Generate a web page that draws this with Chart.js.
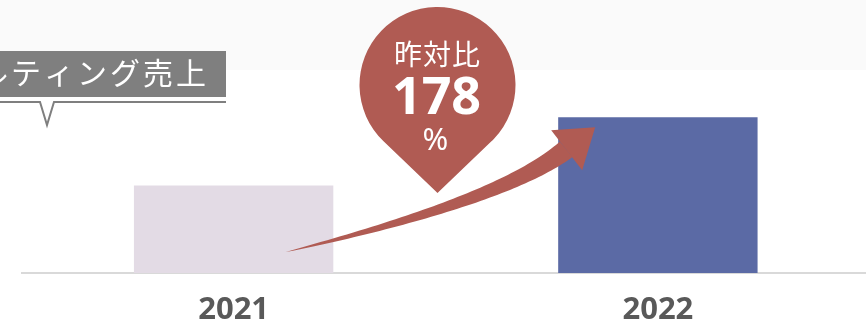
<!DOCTYPE html>
<html lang="ja">
<head>
<meta charset="utf-8">
<script src="https://cdn.jsdelivr.net/npm/chart.js@4/dist/chart.umd.min.js"></script>
<style>
  html, body { margin: 0; padding: 0; background: #fff; overflow: hidden; }
  #moldura { width: 870px; height: 324px; }
</style>
</head>
<body>
<div id="moldura"><canvas id="graficoVendas" width="870" height="324"></canvas></div>
<script>
// Dados do gráfico (índice: 2021 = 100)
const anos = ["2021", "2022"];
const vendas = [100, 178];
const coresBarras = ["#e3dbe5", "#5b6aa5"];
const tituloSerie = "コンサルティング売上";
const rotuloComparacao = "昨対比";

const COR_DESTAQUE = "#b05b53";
const COR_CINZA = "#7f7f7f";

/**
 * Faixa cinza clara no topo, atrás de tudo.
 */
const pluginFundo = {
  id: "fundo",
  beforeDraw(chart) {
    const ctx = chart.ctx;
    ctx.save();
    ctx.fillStyle = "#fafafa";
    ctx.fillRect(0, 0, chart.width, 70);
    ctx.restore();
  }
};

/**
 * Seta curva que afina na cauda (curva quadrática com largura variável).
 */
function desenharSeta(ctx, p0, c, p2, larguraFinal, ponta, aba1, aba2) {
  const pts = [];
  const N = 60;
  for (let i = 0; i <= N; i++) {
    const t = i / N;
    const x = (1 - t) * (1 - t) * p0.x + 2 * (1 - t) * t * c.x + t * t * p2.x;
    const y = (1 - t) * (1 - t) * p0.y + 2 * (1 - t) * t * c.y + t * t * p2.y;
    const dx = 2 * (1 - t) * (c.x - p0.x) + 2 * t * (p2.x - c.x);
    const dy = 2 * (1 - t) * (c.y - p0.y) + 2 * t * (p2.y - c.y);
    const len = Math.hypot(dx, dy);
    const w = larguraFinal * Math.pow(t, 0.8) / 2;
    pts.push({ x, y, nx: -dy / len, ny: dx / len, w });
  }
  ctx.beginPath();
  pts.forEach((p, i) => {
    const X = p.x + p.nx * p.w, Y = p.y + p.ny * p.w;
    if (i === 0) ctx.moveTo(X, Y); else ctx.lineTo(X, Y);
  });
  for (let i = pts.length - 1; i >= 0; i--) {
    const p = pts[i];
    ctx.lineTo(p.x - p.nx * p.w, p.y - p.ny * p.w);
  }
  ctx.closePath();
  ctx.fill();

  // cabeça da seta
  ctx.beginPath();
  ctx.moveTo(ponta.x, ponta.y);
  ctx.lineTo(aba1.x, aba1.y);
  ctx.lineTo(aba2.x, aba2.y);
  ctx.closePath();
  ctx.fill();
}

/**
 * Balão em forma de gota com a variação ano contra ano.
 */
function desenharBalao(ctx, cx, cy, r, bicoY, linhas) {
  const d = bicoY - cy;
  const alfa = Math.acos(r / d);
  const a1 = Math.PI / 2 + alfa;
  const a2 = Math.PI / 2 - alfa + Math.PI * 2;
  ctx.beginPath();
  ctx.moveTo(cx, bicoY);
  ctx.lineTo(cx + r * Math.cos(a1), cy + r * Math.sin(a1));
  ctx.arc(cx, cy, r, a1, a2, false);
  ctx.closePath();
  ctx.fillStyle = COR_DESTAQUE;
  ctx.fill();

  ctx.fillStyle = "#fff";
  ctx.textAlign = "center";
  ctx.textBaseline = "middle";
  linhas.forEach(l => {
    ctx.font = l.fonte;
    ctx.letterSpacing = l.espaco || "0px";
    ctx.fillText(l.texto, cx + l.dx, cy + l.dy);
  });
  ctx.letterSpacing = "0px";
}

const pluginAnotacoes = {
  id: "anotacoes",
  afterDraw(chart) {
    const ctx = chart.ctx;
    const barras = chart.getDatasetMeta(0).data;
    const b0 = barras[0], b1 = barras[1];
    const base = b0.base;

    ctx.save();

    // caixa do título da série, com o bico apontando para baixo
    ctx.fillStyle = COR_CINZA;
    ctx.fillRect(0, 51, 226, 46);
    ctx.fillStyle = "#fff";
    ctx.font = "30px 'Noto Sans CJK JP'";
    ctx.letterSpacing = "3px";
    ctx.textAlign = "right";
    ctx.textBaseline = "middle";
    ctx.fillText(tituloSerie, 209, 73);
    ctx.letterSpacing = "0px";
    ctx.strokeStyle = COR_CINZA;
    ctx.lineWidth = 2;
    ctx.beginPath();
    ctx.moveTo(-2, 102);
    ctx.lineTo(40, 102);
    ctx.lineTo(47, 125);
    ctx.lineTo(54, 102);
    ctx.lineTo(226, 102);
    ctx.stroke();

    // seta de 2021 para 2022
    ctx.fillStyle = COR_DESTAQUE;
    const esq1 = b1.x - b1.width / 2;
    desenharSeta(
      ctx,
      { x: b0.x + 52, y: base - 21 },
      { x: esq1 - 55, y: base - 73 },
      { x: esq1 + 8, y: b1.y + 32 },
      20,
      { x: esq1 + 37, y: b1.y + 10 },
      { x: esq1 - 7, y: b1.y + 13 },
      { x: esq1 + 24, y: b1.y + 53 }
    );

    // balão com a razão entre os dois anos
    const razao = Math.round(vendas[1] / vendas[0] * 100);
    desenharBalao(ctx, 437.5, 85, 78, 193, [
      { texto: rotuloComparacao, fonte: "28px 'Noto Sans CJK JP'", dx: 0, dy: -31, espaco: "1px" },
      { texto: String(razao), fonte: "bold 52px 'Open Sans'", dx: -1, dy: 14 },
      { texto: "%", fonte: "31px 'Noto Sans'", dx: -2, dy: 56 }
    ]);

    ctx.restore();
  }
};

document.addEventListener("DOMContentLoaded", function () {
  const ctx = document.getElementById("graficoVendas");
  new Chart(ctx, {
    type: "bar",
    data: {
      labels: anos,
      datasets: [{
        data: vendas,
        backgroundColor: coresBarras,
        borderWidth: 0,
        barPercentage: 0.47,
        categoryPercentage: 1
      }]
    },
    options: {
      responsive: false,
      animation: false,
      devicePixelRatio: 1,
      // o eixo x ocupa mais altura do que o necessário; o padding negativo compensa
      layout: { padding: { left: 21.5, top: 0, right: 0, bottom: -23 } },
      plugins: {
        legend: { display: false },
        tooltip: { enabled: false }
      },
      scales: {
        y: { display: false, min: 0, max: 312 },
        x: {
          grid: { display: false, drawTicks: false },
          border: { display: true, color: "#d9d9d9", width: 2 },
          ticks: {
            color: "#595959",
            padding: 23,
            font: { family: "'Open Sans'", size: 31, weight: "bold", lineHeight: 0.9 }
          }
        }
      }
    },
    plugins: [pluginFundo, pluginAnotacoes]
  });
});
</script>
</body>
</html>
